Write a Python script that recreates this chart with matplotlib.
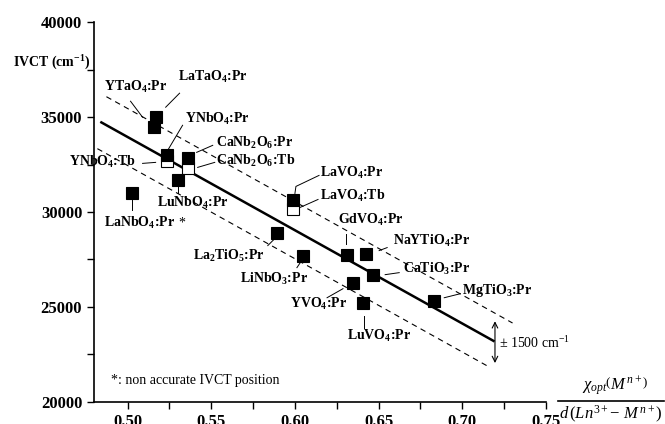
import matplotlib
matplotlib.use('Agg')
import matplotlib.pyplot as plt
from matplotlib.lines import Line2D
from matplotlib.ticker import MultipleLocator

plt.rcParams['font.family'] = 'Liberation Serif'
plt.rcParams['mathtext.fontset'] = 'custom'
plt.rcParams['mathtext.rm'] = 'Liberation Serif'
plt.rcParams['mathtext.it'] = 'Liberation Serif:italic'
plt.rcParams['mathtext.bf'] = 'Liberation Serif:bold'

# Pr3+ doped hosts: chi_opt / d ratio and IVCT energy (cm-1)
pr_hosts = ['LaTaO4', 'YTaO4', 'YNbO4', 'CaNb2O6', 'LuNbO4', 'LaNbO4', 'LaVO4',
            'La2TiO5', 'LiNbO3', 'GdVO4', 'NaYTiO4', 'CaTiO3', 'YVO4', 'LuVO4', 'MgTiO3']
pr_x = [0.517, 0.5156, 0.5234, 0.536, 0.530, 0.5024, 0.5988,
        0.589, 0.6048, 0.631, 0.6425, 0.6467, 0.6347, 0.6407, 0.6832]
pr_ivct = [35000, 34460, 32980, 32820, 31660, 30980, 30610,
           28920, 27710, 27760, 27810, 26700, 26280, 25230, 25330]

# Tb3+ doped hosts (open squares)
tb_hosts = ['YNbO4', 'CaNb2O6', 'LaVO4']
tb_x = [0.5234, 0.536, 0.5988]
tb_ivct = [32665, 32296, 30132]

# linear fit and +/- band
fit_slope = -49100
fit_intercept = 58500
band = 1500

# label text, anchor (x, y), horizontal alignment, leader line points
labels = [
    ('YTaO$_\\mathbf{4}$:Pr', (0.4862, 36570), 'left', [(0.5018, 35831), (0.5090, 34987)]),
    ('LaTaO$_\\mathbf{4}$:Pr', (0.5299, 37098), 'left', [(0.5228, 35515), (0.5311, 36253)]),
    ('YNbO$_\\mathbf{4}$:Pr', (0.5341, 34881), 'left', [(0.5240, 33245), (0.5329, 34565)]),
    ('YNbO$_\\mathbf{4}$:Tb', (0.5048, 32612), 'right', [(0.5090, 32559), (0.5168, 32612)]),
    ('CaNb$_\\mathbf{2}$O$_\\mathbf{6}$:Pr', (0.5527, 33615), 'left', [(0.5413, 33140), (0.5509, 33509)]),
    ('CaNb$_\\mathbf{2}$O$_\\mathbf{6}$:Tb', (0.5527, 32665), 'left', [(0.5419, 32348), (0.5521, 32612)]),
    ('LuNbO$_\\mathbf{4}$:Pr', (0.5174, 30501), 'left', [(0.5299, 31293), (0.5299, 30976)]),
    ('LaNbO$_\\mathbf{4}$:Pr', (0.4862, 29446), 'left', [(0.5024, 30607), (0.5024, 30079)]),
    ('LaVO$_\\mathbf{4}$:Pr', (0.6150, 32032), 'left', [(0.6000, 30976), (0.6006, 31346), (0.6144, 31926)]),
    ('LaVO$_\\mathbf{4}$:Tb', (0.6150, 30871), 'left', [(0.6030, 30237), (0.6138, 30660)]),
    ('GdVO$_\\mathbf{4}$:Pr', (0.6257, 29604), 'left', [(0.6305, 28866), (0.6305, 28338)]),
    ('NaYTiO$_\\mathbf{4}$:Pr', (0.6587, 28496), 'left', [(0.6503, 27968), (0.6551, 28127)]),
    ('CaTiO$_\\mathbf{3}$:Pr', (0.6647, 27019), 'left', [(0.6539, 26702), (0.6623, 26808)]),
    ('La$_\\mathbf{2}$TiO$_\\mathbf{5}$:Pr', (0.5820, 27705), 'right', [(0.5838, 28232), (0.5874, 28549)]),
    ('LiNbO$_\\mathbf{3}$:Pr', (0.5671, 26491), 'left', [(0.6012, 27071), (0.6036, 27388)]),
    ('YVO$_\\mathbf{4}$:Pr', (0.5970, 25171), 'left', [(0.6192, 25488), (0.6287, 25963)]),
    ('LuVO$_\\mathbf{4}$:Pr', (0.6311, 23483), 'left', [(0.6413, 24539), (0.6413, 23905)]),
    ('MgTiO$_\\mathbf{3}$:Pr', (0.7000, 25857), 'left', [(0.6892, 25488), (0.6988, 25699)]),
]

fig = plt.figure(figsize=(6.65, 4.24), dpi=100)
ax = fig.add_axes([0.1414, 0.0519, 0.6797, 0.8962])

# fit line and dashed band
x0, x1 = 0.4844, 0.7186
ax.plot([x0, x1], [fit_intercept + fit_slope * x0, fit_intercept + fit_slope * x1],
        color='k', lw=1.8, zorder=2)
xu0, xu1 = 0.4874, 0.730
ax.plot([xu0, xu1], [fit_intercept + fit_slope * xu0 + band, fit_intercept + fit_slope * xu1 + band],
        color='k', lw=0.8, ls=(0, (5, 4)), zorder=2)
xl0, xl1 = 0.482, 0.715
ax.plot([xl0, xl1], [fit_intercept + fit_slope * xl0 - band, fit_intercept + fit_slope * xl1 - band],
        color='k', lw=0.8, ls=(0, (5, 4)), zorder=2)

ax.plot(tb_x, tb_ivct, 's', ms=8, mfc='white', mec='k', mew=0.8, zorder=3)
ax.plot(pr_x, pr_ivct, 's', ms=8, mfc='k', mec='k', mew=0.8, zorder=4)

for text, (tx, ty), ha, leader in labels:
    ax.text(tx, ty, text, ha=ha, va='center', fontsize=10, fontweight='bold')
    lx, ly = zip(*leader)
    ax.plot(lx, ly, color='k', lw=0.7)

# LaNbO4 position flagged as inaccurate
ax.text(0.5305, 29420, '*', ha='left', va='center', fontsize=10)

# +/- 1500 arrow
xa = 0.7195
ax.annotate('', xy=(xa, 22050), xytext=(xa, 24250),
            arrowprops=dict(arrowstyle='<->', lw=0.8, color='k', shrinkA=0, shrinkB=0))
ax.text(0.722, 23120, '\u00b1 1500 cm$^{-1}$', ha='left', va='center', fontsize=10)

ax.text(0.4904, 21120, '*: non accurate IVCT position', ha='left', va='center', fontsize=10)

ax.set_xlim(0.48, 0.75)
ax.set_ylim(20000, 40000)
ax.xaxis.set_major_locator(MultipleLocator(0.05))
ax.xaxis.set_minor_locator(MultipleLocator(0.025))
ax.yaxis.set_major_locator(MultipleLocator(5000))
ax.yaxis.set_minor_locator(MultipleLocator(2500))
ax.set_xticks([0.50, 0.55, 0.60, 0.65, 0.70, 0.75])
ax.set_xticklabels(['0.50', '0.55', '0.60', '0.65', '0.70', '0.75'])
ax.tick_params(which='both', direction='out', length=5, width=1)
ax.tick_params(labelsize=12)
for lab in ax.get_xticklabels() + ax.get_yticklabels():
    lab.set_fontweight('bold')

ax.spines['top'].set_visible(False)
ax.spines['right'].set_visible(False)
ax.spines['left'].set_linewidth(1.2)
ax.spines['bottom'].set_linewidth(1.2)

fig.text(13 / 665, 1 - 63 / 424, 'IVCT (cm$^\\mathbf{-1}$)', ha='left', va='center',
         fontsize=10, fontweight='bold')

# x axis label as a fraction
fig.text(615 / 665, 1 - 386 / 424, '$\\chi_{opt}\\left(M^{\\,n+}\\right)$',
         ha='center', va='center', fontsize=12)
fig.text(611 / 665, 1 - 414 / 424, '$d\\,(Ln^{3+}\\!-\\,M^{\\,n+})$',
         ha='center', va='center', fontsize=12)
fig.add_artist(Line2D([558 / 665, 664 / 665], [1 - 401 / 424, 1 - 401 / 424],
                      transform=fig.transFigure, color='k', lw=1.2))

fig.savefig('out.png', dpi=100)
